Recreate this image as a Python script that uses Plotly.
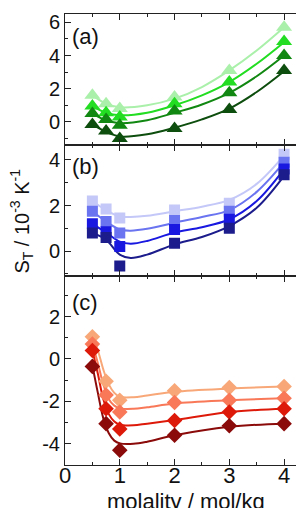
import plotly.graph_objects as go

# ---------------- data ----------------
molality = [0.5, 0.75, 1, 2, 3, 4]

# panel (a) - triangles
a_vals = [
    [1.6, 1.1, 0.8, 1.5, 3.1, 5.7],
    [0.95, 0.55, 0.3, 1.1, 2.4, 4.85],
    [0.5, 0.15, -0.2, 0.65, 1.75, 4.0],
    [-0.15, -0.55, -1.0, -0.4, 0.75, 3.1],
]
a_fit_x = [0.5, 0.75, 1, 1.5, 2, 2.5, 3, 3.5, 4]
a_fit = [
    [1.6, 1.1, 0.88, 1.0, 1.4, 2.1, 3.1, 4.3, 5.7],
    [0.95, 0.55, 0.4, 0.55, 1.0, 1.6, 2.4, 3.5, 4.8],
    [0.5, 0.1, -0.08, 0.1, 0.55, 1.05, 1.75, 2.75, 4.0],
    [-0.15, -0.6, -0.88, -0.75, -0.35, 0.15, 0.8, 1.8, 3.05],
]

# panel (b) - squares
b_vals = [
    [2.2, 1.85, 1.45, 1.8, 2.1, 4.25],
    [1.75, 1.3, 0.8, 1.35, 1.75, 3.9],
    [1.2, 0.85, 0.2, 0.95, 1.4, 3.6],
    [0.8, 0.6, -0.65, 0.35, 1.0, 3.35],
]
b_fit_x = [0.5, 0.75, 1, 1.2, 1.5, 2, 2.5, 3, 3.5, 4]
b_fit = [
    [2.2, 1.8, 1.52, 1.5, 1.55, 1.75, 1.95, 2.25, 2.95, 4.2],
    [1.75, 1.3, 0.95, 0.9, 0.98, 1.25, 1.5, 1.8, 2.6, 3.9],
    [1.2, 0.82, 0.42, 0.33, 0.45, 0.82, 1.05, 1.4, 2.2, 3.6],
    [0.8, 0.5, -0.15, -0.3, -0.15, 0.3, 0.62, 1.1, 1.9, 3.3],
]

# panel (c) - diamonds
c_vals = [
    [1.05, -1.05, -1.95, -1.5, -1.35, -1.3],
    [0.7, -1.7, -2.5, -2.05, -1.95, -1.85],
    [0.4, -2.35, -3.3, -2.9, -2.5, -2.35],
    [-0.35, -3.05, -4.3, -3.6, -3.15, -3.05],
]
c_fit_x = [0.5, 0.6, 0.7, 0.8, 0.9, 1.0, 1.25, 1.5, 2, 3, 4]
c_fit = [
    [1.0, 0.4, -0.5, -1.2, -1.6, -1.78, -1.8, -1.72, -1.55, -1.4, -1.3],
    [0.7, -0.2, -1.2, -1.9, -2.2, -2.33, -2.35, -2.28, -2.1, -1.95, -1.85],
    [0.4, -0.7, -1.9, -2.6, -2.95, -3.1, -3.13, -3.05, -2.88, -2.5, -2.35],
    [-0.3, -1.6, -2.8, -3.5, -3.85, -3.98, -4.0, -3.9, -3.6, -3.2, -3.05],
]

green = ["#aaf0aa", "#22dd22", "#118811", "#0d4d0d"]
blue = ["#c4c8f8", "#6a74f0", "#1818e0", "#1c1c8c"]
red = ["#f8a878", "#f87858", "#dd1a0a", "#8b0a0a"]

x_ticks = [0, 1, 2, 3, 4]
a_ticks = [0, 2, 4, 6]
b_ticks = [0, 2, 4]
c_ticks = [-4, -2, 0, 2]
c_ticktext = ["-4", "-2", "0", "2"]

panels = [
    ("y3", "x3", a_vals, a_fit_x, a_fit, green, "triangle-up", 14),
    ("y2", "x2", b_vals, b_fit_x, b_fit, blue, "square", 11),
    ("y", "x", c_vals, c_fit_x, c_fit, red, "diamond", 12),
]

fig = go.Figure()
for yax, xax, vals, fx, fits, cols, sym, ms in panels:
    for fy, col in zip(fits, cols):
        fig.add_trace(go.Scatter(x=fx, y=fy, mode="lines", xaxis=xax, yaxis=yax,
                                 line=dict(color=col, width=2, shape="spline", smoothing=1.0),
                                 hoverinfo="skip", showlegend=False))
    for v, col in zip(vals, cols):
        fig.add_trace(go.Scatter(x=molality, y=v, mode="markers", xaxis=xax, yaxis=yax,
                                 marker=dict(symbol=sym, size=ms, color=col, line=dict(width=0)),
                                 showlegend=False))

H = 454.0
dom_c = [0, 190 / H]
dom_b = [190 / H, 322 / H]
dom_a = [322 / H, 1]

FONT = "Liberation Sans, Arial"
axis_common = dict(showline=True, linecolor="#222", linewidth=1, mirror="ticks",
                   ticks="inside", ticklen=6, tickcolor="#222", showgrid=False,
                   zeroline=False)
yfont = dict(family=FONT, size=20, color="#111")
xfont = dict(family=FONT, size=22, color="#111")
minor_x = dict(dtick=0.5, tick0=0, ticks="inside", ticklen=3, tickcolor="#222")
minor_y = dict(dtick=1, tick0=0, ticks="inside", ticklen=3, tickcolor="#222")

fig.update_layout(
    width=304, height=508,
    margin=dict(l=57, r=6, t=3, b=51),
    paper_bgcolor="white", plot_bgcolor="white",
    font=dict(family=FONT, color="#111"),
    xaxis=dict(range=[0, 4.4], tickvals=x_ticks, anchor="y", minor=minor_x,
               tickfont=xfont, ticklabelstandoff=-9, **axis_common),
    yaxis=dict(domain=dom_c, range=[-5, 3.9], tickvals=c_ticks, ticktext=c_ticktext,
               anchor="x", minor=minor_y, tickfont=yfont, **axis_common),
    yaxis2=dict(domain=dom_b, range=[-1.1, 4.65], tickvals=b_ticks, anchor="x2",
                minor=minor_y, tickfont=yfont, **axis_common),
    yaxis3=dict(domain=dom_a, range=[-1.4, 6.5], tickvals=a_ticks, anchor="x3",
                minor=minor_y, tickfont=yfont, **axis_common),
    xaxis2=dict(range=[0, 4.4], tickvals=x_ticks, anchor="y2", matches="x",
                showticklabels=False, minor=minor_x, **axis_common),
    xaxis3=dict(range=[0, 4.4], tickvals=x_ticks, anchor="y3", matches="x",
                showticklabels=False, minor=minor_x, **axis_common),
)

for label, yref, off, h in [("(a)", "y3 domain", 23, 132), ("(b)", "y2 domain", 22, 132),
                            ("(c)", "y domain", 26, 190)]:
    fig.add_annotation(text=label, xref="x domain", yref=yref, x=0.02, y=1.0 - off / h,
                       xanchor="left", yanchor="middle", showarrow=False,
                       font=dict(family=FONT, size=22, color="#111"))

fig.add_annotation(text="molality / mol/kg", xref="paper", yref="paper",
                   x=0.5, y=(457 - 494) / H, xanchor="center", yanchor="middle",
                   showarrow=False, font=dict(family=FONT, size=22, color="#111"))

fig.add_annotation(text="S<sub>T</sub> / 10<sup>-3</sup> K<sup>-1</sup>", xref="paper", yref="paper",
                   x=(14 - 57) / 241, y=(457 - 212) / H, xanchor="center", yanchor="middle",
                   textangle=-90, showarrow=False, font=dict(family=FONT, size=20, color="#111"))

fig.write_html("out.html")
